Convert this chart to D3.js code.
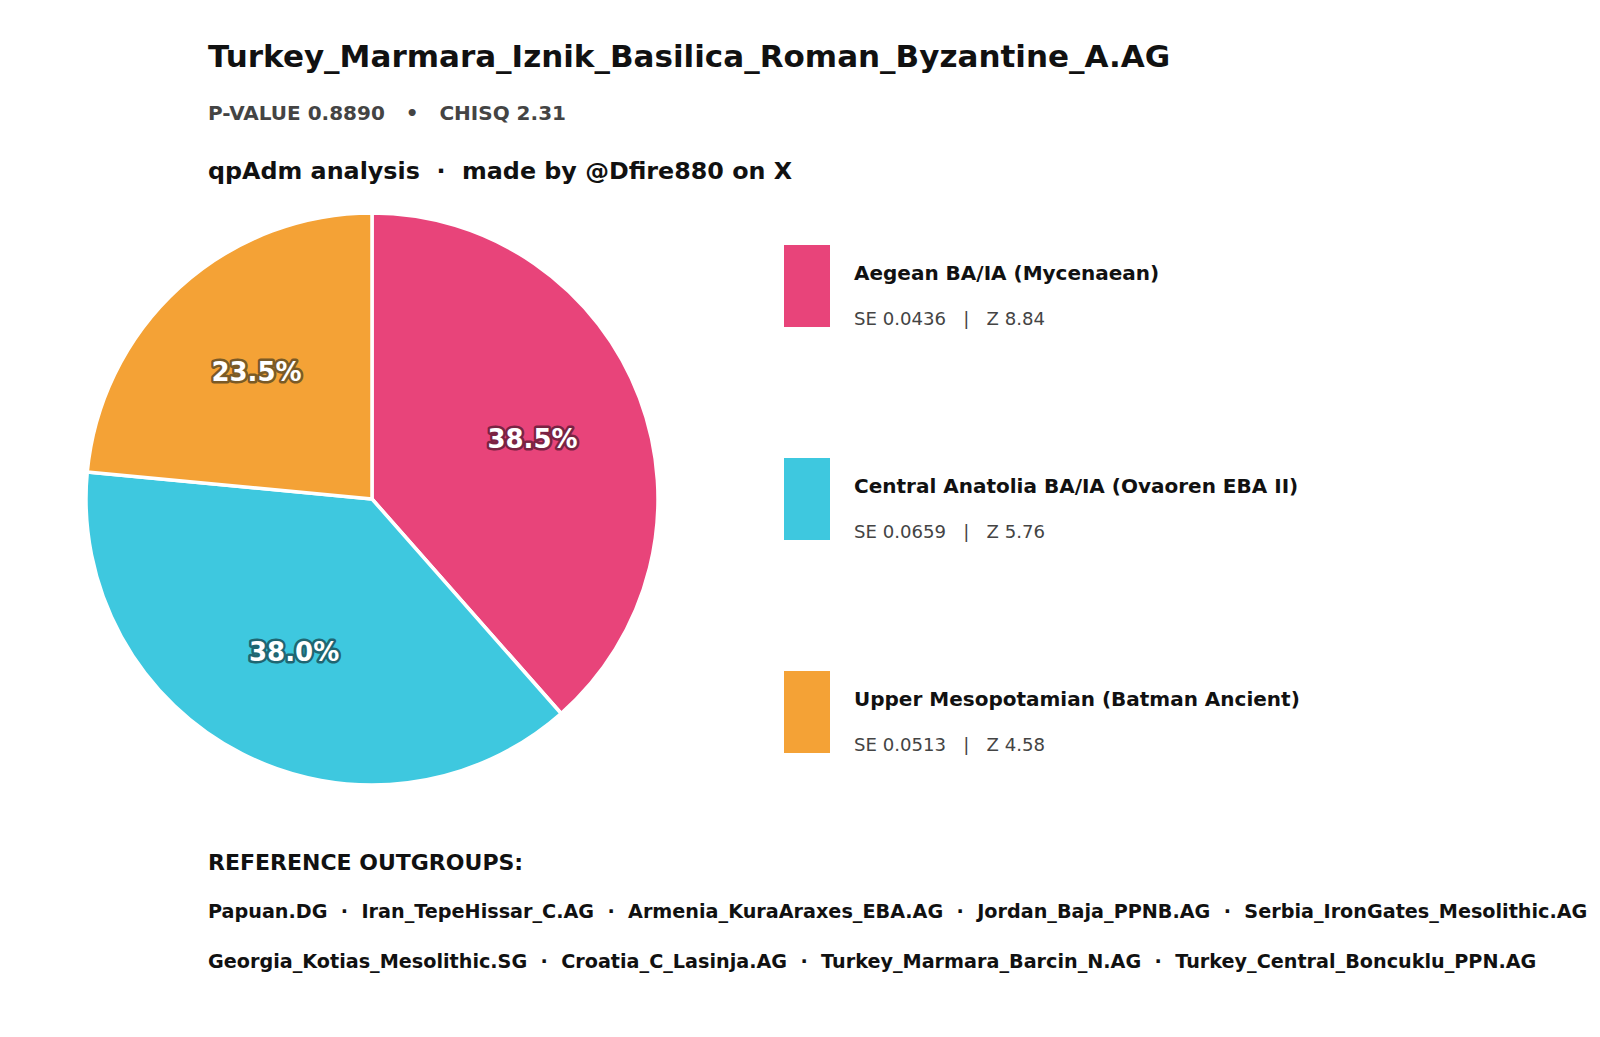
<!DOCTYPE html>
<html>
<head>
<meta charset="utf-8">
<script src="https://cdn.jsdelivr.net/npm/d3@7"></script>
<style>
  body { margin: 0; background: #fff; }
  svg text { font-family: "DejaVu Sans", sans-serif; white-space: pre; }
</style>
</head>
<body>
<svg id="chart" width="1600" height="1037"></svg>
<script>
var sources = ["Aegean BA/IA (Mycenaean)", "Central Anatolia BA/IA (Ovaoren EBA II)", "Upper Mesopotamian (Batman Ancient)"];
var weights = [38.5, 38.0, 23.5];
var stdErrs = ["0.0436", "0.0659", "0.0513"];
var zScores = ["8.84", "5.76", "4.58"];
var outgroupsRow1 = ["Papuan.DG", "Iran_TepeHissar_C.AG", "Armenia_KuraAraxes_EBA.AG", "Jordan_Baja_PPNB.AG", "Serbia_IronGates_Mesolithic.AG"];
var outgroupsRow2 = ["Georgia_Kotias_Mesolithic.SG", "Croatia_C_Lasinja.AG", "Turkey_Marmara_Barcin_N.AG", "Turkey_Central_Boncuklu_PPN.AG"];

var fills = ["#E8447A", "#3EC8DF", "#F4A236"];
var edges = ["#7a2343", "#1f6672", "#7a5a26"];

var svg = d3.select("#chart");

// header
svg.append("text").attr("x", 208).attr("y", 67)
  .attr("font-size", 31).attr("font-weight", "bold").attr("fill", "#111")
  .text("Turkey_Marmara_Iznik_Basilica_Roman_Byzantine_A.AG");
svg.append("text").attr("x", 208).attr("y", 120)
  .attr("font-size", 20).attr("font-weight", "bold").attr("fill", "#444")
  .text("P-VALUE 0.8890   \u2022   CHISQ 2.31");
svg.append("text").attr("x", 208).attr("y", 179)
  .attr("font-size", 23.8).attr("font-weight", "bold").attr("fill", "#111")
  .text("qpAdm analysis  \u00b7  made by @Dfire880 on X");

// pie
var cx = 372, cy = 499, r = 286;
var pie = d3.pie().sort(null).value(function(d){ return d; });
var arcs = pie(weights);
var arc = d3.arc().innerRadius(0).outerRadius(r);
var labelArc = d3.arc().innerRadius(r * 0.6).outerRadius(r * 0.6);

var g = svg.append("g").attr("transform", "translate(" + cx + "," + cy + ")");
g.selectAll("path").data(arcs).enter().append("path")
  .attr("d", arc)
  .attr("fill", function(d, i){ return fills[i]; })
  .attr("stroke", "#fff")
  .attr("stroke-width", 3.5)
  .attr("stroke-linejoin", "round");

g.selectAll("text.pct").data(arcs).enter().append("text")
  .attr("class", "pct")
  .attr("transform", function(d){ return "translate(" + labelArc.centroid(d) + ")"; })
  .attr("text-anchor", "middle").attr("dy", "0.36em")
  .attr("font-size", 26).attr("font-weight", "bold")
  .attr("fill", "#fff")
  .attr("stroke", function(d, i){ return edges[i]; })
  .attr("stroke-width", 5).attr("paint-order", "stroke")
  .attr("stroke-linejoin", "round")
  .text(function(d){ return d.data.toFixed(1) + "%"; });

// legend
var legY = d3.scaleLinear().domain([0, 1]).range([245, 458]);
var leg = svg.selectAll("g.leg").data(sources).enter().append("g")
  .attr("class", "leg")
  .attr("transform", function(d, i){ return "translate(784," + legY(i) + ")"; });
leg.append("rect").attr("width", 46).attr("height", 82)
  .attr("fill", function(d, i){ return fills[i]; });
leg.append("text").attr("x", 70).attr("y", 35)
  .attr("font-size", 20).attr("font-weight", "bold").attr("fill", "#111")
  .text(function(d){ return d; });
leg.append("text").attr("x", 70).attr("y", 80)
  .attr("font-size", 18.1).attr("fill", "#444")
  .text(function(d, i){ return "SE " + stdErrs[i] + "   |   Z " + zScores[i]; });

// outgroups
svg.append("text").attr("x", 208).attr("y", 870)
  .attr("font-size", 22).attr("font-weight", "bold").attr("fill", "#111")
  .text("REFERENCE OUTGROUPS:");
svg.selectAll("text.og").data([outgroupsRow1, outgroupsRow2]).enter().append("text")
  .attr("class", "og")
  .attr("x", 208).attr("y", function(d, i){ return 918 + i * 50; })
  .attr("font-size", 19.2).attr("font-weight", "bold").attr("fill", "#111")
  .text(function(d){ return d.join("  \u00b7  "); });
</script>
</body>
</html>
